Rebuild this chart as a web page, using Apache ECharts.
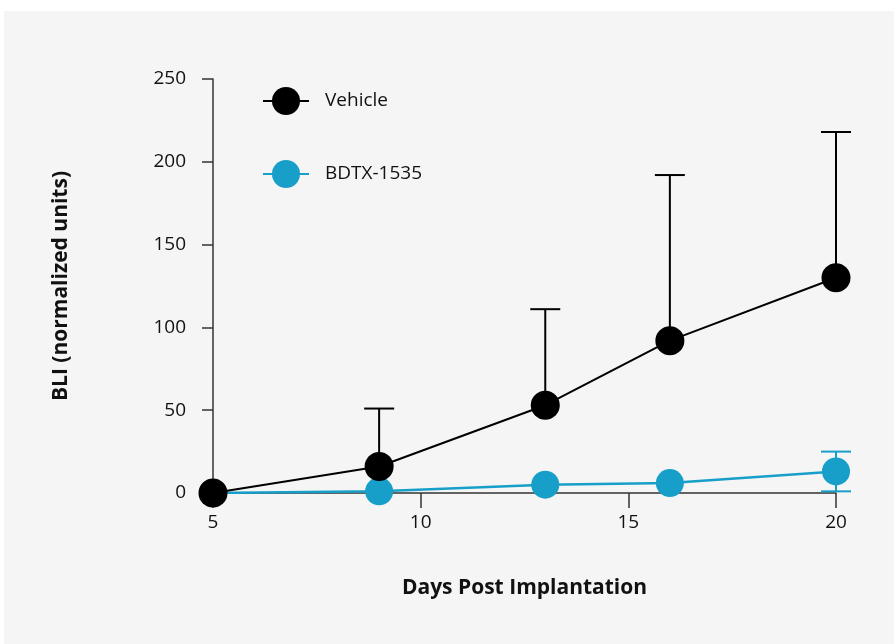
<!DOCTYPE html>
<html>
<head>
<meta charset="utf-8">
<script src="https://cdn.jsdelivr.net/npm/echarts@6/dist/echarts.min.js"></script>
<style>
html,body{margin:0;padding:0;background:#fff;}
#bg{position:absolute;left:4px;top:11px;width:890px;height:633px;background:#f5f5f5;}
#chart{position:absolute;left:0;top:0;width:894px;height:644px;}
</style>
</head>
<body>
<div id="bg"></div>
<div id="chart"></div>
<script>
const days = [5, 9, 13, 16, 20];
const vehicleMean = [0, 16, 53, 92, 130];
const vehicleErr = [0, 35, 58, 100, 88];
const bdtxMean = [0, 1, 5, 6, 13];
const bdtxErr = [0, 0, 0, 0, 12];
const xTicks = [5, 10, 15, 20];
const yTicks = [0, 50, 100, 150, 200, 250];

const BLACK = '#000000';
const CYAN = '#179fc9';
const FONT = 'Open Sans';

const chart = echarts.init(document.getElementById('chart'), null, {renderer: 'canvas'});

function errSeries(name, mean, err, color, lowerToo, z) {
  return {
    type: 'custom',
    name: name + ' err',
    z: z,
    silent: true,
    data: days.map((d, i) => [d, mean[i], err[i]]),
    renderItem: function (params, api) {
      const x = api.value(0), m = api.value(1), e = api.value(2);
      if (!e) return null;
      const top = api.coord([x, m + e]);
      const bot = api.coord([x, lowerToo ? m - e : m]);
      const hw = 15;
      const children = [
        {type: 'line', shape: {x1: top[0], y1: top[1], x2: bot[0], y2: bot[1]}, style: {stroke: color, lineWidth: 2}},
        {type: 'line', shape: {x1: top[0] - hw, y1: top[1], x2: top[0] + hw, y2: top[1]}, style: {stroke: color, lineWidth: 2}}
      ];
      if (lowerToo) {
        children.push({type: 'line', shape: {x1: bot[0] - hw, y1: bot[1], x2: bot[0] + hw, y2: bot[1]}, style: {stroke: color, lineWidth: 2}});
      }
      return {type: 'group', children: children};
    }
  };
}

const option = {
  animation: false,
  grid: {left: 213, right: 58, top: 79, bottom: 151, containLabel: false},
  legend: {
    orient: 'vertical',
    left: 262,
    top: 87,
    padding: 0,
    itemWidth: 46,
    itemHeight: 35,
    itemGap: 45,
    data: ['Vehicle', 'BDTX-1535'],
    textStyle: {fontFamily: FONT, fontSize: 19, color: '#111', padding: [0, 0, 0, 11]}
  },
  xAxis: {
    type: 'value',
    min: 5, max: 20, interval: 5,
    name: 'Days Post Implantation',
    nameLocation: 'middle',
    nameGap: 85,
    nameTextStyle: {fontFamily: FONT, fontSize: 21, fontWeight: 'bold', color: '#111'},
    axisLine: {show: true, onZero: false, lineStyle: {color: '#333', width: 1.5}},
    axisTick: {show: true, length: 15, inside: false, lineStyle: {color: '#333', width: 1.5}},
    axisLabel: {fontFamily: FONT, fontSize: 19, color: '#111', margin: 20,
      formatter: v => xTicks.includes(v) ? String(v) : ''},
    splitLine: {show: false}
  },
  yAxis: {
    type: 'value',
    min: 0, max: 250, interval: 50,
    name: 'BLI (normalized units)',
    nameLocation: 'middle',
    nameGap: 141,
    nameTextStyle: {fontFamily: FONT, fontSize: 21, fontWeight: 'bold', color: '#111'},
    axisLine: {show: true, lineStyle: {color: '#333', width: 1.5}},
    axisTick: {show: true, length: 11, inside: false, lineStyle: {color: '#333', width: 1.5}},
    axisLabel: {fontFamily: FONT, fontSize: 19, color: '#111', margin: 27,
      formatter: v => yTicks.includes(v) ? String(v) : ''},
    splitLine: {show: false}
  },
  series: [
    errSeries('BDTX-1535', bdtxMean, bdtxErr, CYAN, true, 3),
    {
      type: 'line',
      name: 'BDTX-1535',
      z: 4,
      data: days.map((d, i) => [d, bdtxMean[i]]),
      symbol: 'circle',
      symbolSize: 28,
      lineStyle: {color: CYAN, width: 2.5},
      itemStyle: {color: CYAN},
      emphasis: {disabled: true}
    },
    errSeries('Vehicle', vehicleMean, vehicleErr, BLACK, false, 5),
    {
      type: 'line',
      name: 'Vehicle',
      z: 6,
      data: days.map((d, i) => [d, vehicleMean[i]]),
      symbol: 'circle',
      symbolSize: 29,
      lineStyle: {color: BLACK, width: 2},
      itemStyle: {color: BLACK},
      emphasis: {disabled: true}
    }
  ]
};
chart.setOption(option);
</script>
</body>
</html>
